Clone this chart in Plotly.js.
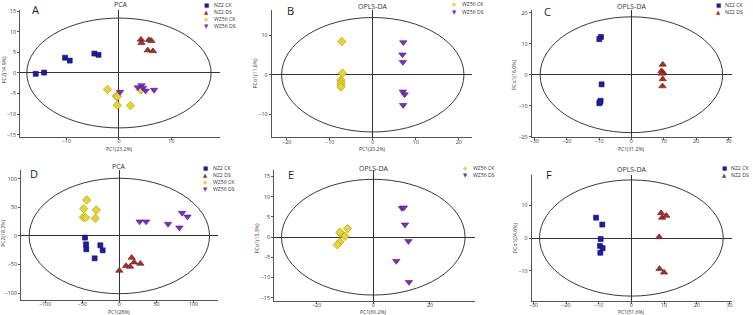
<!DOCTYPE html>
<html>
<head>
<meta charset="utf-8">
<script src="https://cdn.plot.ly/plotly-3.0.1.min.js"></script>
<style>html,body{margin:0;padding:0;background:#fff;}#chart{width:753px;height:315px;}</style>
</head>
<body>
<div id="chart"></div>
<script>
// ---------- DATA ----------
const groupNames = ['NZ2 CK', 'NZ2 DS', 'WZ56 CK', 'WZ56 DS'];
const panelLetters = ['A', 'B', 'C', 'D', 'E', 'F'];
const panelTitles = ['PCA', 'OPLS-DA', 'OPLS-DA', 'PCA', 'OPLS-DA', 'OPLS-DA'];
const xTitles = ['PC1(23.2%)', 'PC1(20.2%)', 'PC1(31.2%)', 'PC1(28%)', 'PC1(60.2%)', 'PC1(51.6%)'];
const yTitles = ['PC2(14.9%)', 'PCo1(11.6%)', 'PCo1(16.0%)', 'PC2(18.2%)', 'PCo1(15.3%)', 'PCo1(24.6%)'];
const ellipseRx = [17.6, 21.2, 28.2, 121.5, 32.4, 28.1];
const ellipseRy = [13.3, 14.5, 18.7, 101, 14.3, 17.7];

// Panel A (PCA, all four groups)
const A_NZ2CK_x = [-15.9, -14.3, -10.3, -9.4, -4.7, -3.9];
const A_NZ2CK_y = [-0.2, 0.1, 3.7, 3.0, 4.7, 4.4];
const A_NZ2DS_x = [4.2, 4.3, 5.7, 6.2, 5.5, 6.5];
const A_NZ2DS_y = [8.1, 7.3, 8.0, 7.8, 5.5, 5.3];
const A_WZ56CK_x = [-2.2, -0.5, -0.3, -0.3, 2.2, 4.2];
const A_WZ56CK_y = [-4.0, -5.6, -5.7, -7.8, -7.9, -4.1];
const A_WZ56DS_x = [0.2, 3.6, 4.3, 4.6, 5.1, 6.7];
const A_WZ56DS_y = [-4.6, -3.5, -3.0, -3.6, -4.3, -4.1];

// Panel B (OPLS-DA, WZ56)
const B_WZ56CK_x = [-7.2, -7.05, -7.4, -7.4, -7.4, -7.4];
const B_WZ56CK_y = [8.4, 0.4, -1.35, -1.9, -2.5, -3.1];
const B_WZ56DS_x = [7.1, 6.9, 7.0, 7.0, 7.4, 7.05];
const B_WZ56DS_y = [8.2, 5.1, 3.2, -4.3, -5.0, -7.7];

// Panel C (OPLS-DA, NZ2)
const C_NZ2CK_x = [-9.4, -9.9, -9.2, -9.5, -9.9, -9.7];
const C_NZ2CK_y = [12.2, 11.5, -3.1, -8.4, -9.2, -8.8];
const C_NZ2DS_x = [9.7, 9.3, 9.9, 9.4, 9.7, 9.6];
const C_NZ2DS_y = [3.3, 1.2, 0.6, 0.4, -1.4, -3.7];

// Panel D (PCA, all four groups)
const D_NZ2CK_x = [-46.3, -44.9, -44.5, -25.6, -22.5, -33.3];
const D_NZ2CK_y = [-2.9, -14.6, -23.3, -16.3, -25.1, -39.1];
const D_NZ2DS_x = [0.0, 9.0, 14.4, 16.6, 19.8, 28.3];
const D_NZ2DS_y = [-60.6, -52.5, -53.6, -37.9, -46.1, -48.4];
const D_WZ56CK_x = [-44.0, -48.1, -48.5, -45.4, -31.0, -32.4];
const D_WZ56CK_y = [63.0, 47.8, 32.7, 32.1, 45.5, 30.9];
const D_WZ56DS_x = [27.4, 36.0, 65.6, 80.9, 84.5, 91.7];
const D_WZ56DS_y = [25.1, 25.1, 21.0, 14.6, 40.2, 33.8];

// Panel E (OPLS-DA, WZ56)
const E_WZ56CK_x = [-9.1, -11.5, -10.0, -11.8, -12.7, -11.8];
const E_WZ56CK_y = [2.1, 0.9, 0.2, -1.2, -1.9, 1.2];
const E_WZ56DS_x = [10.1, 10.8, 11.2, 12.4, 8.1, 12.6];
const E_WZ56DS_y = [7.2, 7.3, 3.1, -1.0, -5.9, -11.1];

// Panel F (OPLS-DA, NZ2)
const F_NZ2CK_x = [-10.8, -8.9, -9.4, -9.6, -8.8, -9.5];
const F_NZ2CK_y = [6.2, 4.1, -0.3, -2.4, -3.1, -4.5];
const F_NZ2DS_x = [9.1, 9.4, 10.7, 8.5, 8.6, 10.0];
const F_NZ2DS_y = [7.6, 6.2, 6.8, 0.3, -9.4, -10.5];

// ---------- STYLES / LAYOUT ----------
const W = 753, H = 315;
const px = v => v / W;
const py = v => 1 - v / H;

const style = {
  'NZ2 CK':  {symbol: 'square', color: '#1d1da0', line: '#101070', glyph: '\u25A0', size: 5},
  'NZ2 DS':  {symbol: 'triangle-up', color: '#a3302c', line: '#6e1a18', glyph: '\u25B2', size: 6.5},
  'WZ56 CK': {symbol: 'diamond', color: '#e6d52a', line: '#a4961a', glyph: '\u25C6', size: 6.5},
  'WZ56 DS': {symbol: 'triangle-down', color: '#7a2fc0', line: '#4e1a85', glyph: '\u25BC', size: 6.5}
};

const panelSeries = [
  [['NZ2 CK', A_NZ2CK_x, A_NZ2CK_y], ['NZ2 DS', A_NZ2DS_x, A_NZ2DS_y], ['WZ56 CK', A_WZ56CK_x, A_WZ56CK_y], ['WZ56 DS', A_WZ56DS_x, A_WZ56DS_y]],
  [['WZ56 CK', B_WZ56CK_x, B_WZ56CK_y], ['WZ56 DS', B_WZ56DS_x, B_WZ56DS_y]],
  [['NZ2 CK', C_NZ2CK_x, C_NZ2CK_y], ['NZ2 DS', C_NZ2DS_x, C_NZ2DS_y]],
  [['NZ2 CK', D_NZ2CK_x, D_NZ2CK_y], ['NZ2 DS', D_NZ2DS_x, D_NZ2DS_y], ['WZ56 CK', D_WZ56CK_x, D_WZ56CK_y], ['WZ56 DS', D_WZ56DS_x, D_WZ56DS_y]],
  [['WZ56 CK', E_WZ56CK_x, E_WZ56CK_y], ['WZ56 DS', E_WZ56DS_x, E_WZ56DS_y]],
  [['NZ2 CK', F_NZ2CK_x, F_NZ2CK_y], ['NZ2 DS', F_NZ2DS_x, F_NZ2DS_y]]
];

// geometry in pixels
const geo = [
  {x0: 20, x1: 220, y0: 10, y1: 137, xr: [-18.9, 19.3], yr: [-15.5, 15.25], dx: 10, dy: 5,
   letter: [35, 9], title: [121, 5], leg: [207, 213, 4.6, 7.2], xt: [119.3, 148.5], yt: [3.5, 70]},
  {x0: 271.7, x1: 471.7, y0: 10, y1: 137.3, xr: [-23.5, 23.0], yr: [-15.85, 16.4], dx: 10, dy: 10,
   letter: [290, 10], title: [372.7, 6], leg: [454, 460.5, 4.5, 7.2], xt: [372.7, 148.8], yt: [254.5, 73]},
  {x0: 531.7, x1: 731.7, y0: 10, y1: 136.7, xr: [-30.8, 31.0], yr: [-20.0, 20.9], dx: 10, dy: 10,
   letter: [547.7, 11.7], title: [631.7, 6], leg: [718, 724, 4.7, 7.3], xt: [631.3, 148.5], yt: [514, 75]},
  {x0: 21, x1: 218.3, y0: 170, y1: 300, xr: [-132.5, 133.3], yr: [-112, 115.4], dx: 50, dy: 50,
   letter: [34.3, 173.3], title: [119.3, 166.7], leg: [205.7, 212.3, 167.8, 7.2], xt: [119.3, 311.8], yt: [2.8, 233]},
  {x0: 274, x1: 475, y0: 170, y1: 300.7, xr: [-35.05, 35.9], yr: [-15.7, 16.6], dx: 20, dy: 5,
   letter: [290.7, 174], title: [373.3, 168.3], leg: [465, 471.5, 168, 7.2], xt: [373.3, 312], yt: [256.5, 238]},
  {x0: 531.7, x1: 731.7, y0: 175, y1: 300.7, xr: [-30.5, 30.7], yr: [-19.1, 19.2], dx: 10, dy: 10,
   letter: [548.7, 174], title: [631.3, 169], leg: [724, 730, 167.5, 7.2], xt: [631.3, 312], yt: [515, 238]}
];

const traces = [];
const layout = {
  width: W, height: H,
  margin: {l: 0, r: 0, t: 0, b: 0},
  paper_bgcolor: '#ffffff', plot_bgcolor: '#ffffff',
  showlegend: false,
  font: {family: 'Open Sans, Liberation Sans, sans-serif', color: '#333', size: 6},
  annotations: [], shapes: []
};

geo.forEach((g, i) => {
  const n = i + 1;
  const xa = 'xaxis' + (n === 1 ? '' : n), ya = 'yaxis' + (n === 1 ? '' : n);
  const xr = 'x' + (n === 1 ? '' : n), yr = 'y' + (n === 1 ? '' : n);
  const common = {
    showgrid: false, zeroline: true, zerolinecolor: '#333', zerolinewidth: 1,
    showline: true, linecolor: '#555', linewidth: 1,
    ticks: 'outside', ticklen: 2, tickcolor: '#555', tickwidth: 1,
    tickfont: {size: 5.3, color: '#333'}, automargin: false, fixedrange: true
  };
  layout[xa] = Object.assign({domain: [px(g.x0), px(g.x1)], range: g.xr, anchor: yr, dtick: g.dx,
    ticklabelstandoff: -3}, common);
  layout[ya] = Object.assign({domain: [py(g.y1), py(g.y0)], range: g.yr, anchor: xr, dtick: g.dy}, common);
  // Hotelling ellipse
  layout.shapes.push({
    type: 'circle', xref: xr, yref: yr,
    x0: -ellipseRx[i], x1: ellipseRx[i], y0: -ellipseRy[i], y1: ellipseRy[i],
    line: {color: '#222', width: 0.9}, layer: 'below'
  });
  const ann = (text, x, y, opts) => layout.annotations.push(Object.assign({
    text: text, xref: 'paper', yref: 'paper', x: px(x), y: py(y),
    xanchor: 'center', yanchor: 'middle', showarrow: false, borderpad: 0
  }, opts));
  ann(panelLetters[i], g.letter[0], g.letter[1], {font: {size: 11, color: '#222', family: 'Open Sans, sans-serif'}});
  ann(panelTitles[i], g.title[0], g.title[1], {font: {size: 7, color: '#333'}});
  ann(xTitles[i], g.xt[0], g.xt[1], {font: {size: 5, color: '#333'}});
  ann(yTitles[i], g.yt[0], g.yt[1], {font: {size: 5.2, color: '#333'}, textangle: -90});
  // series + legend
  panelSeries[i].forEach((s, k) => {
    const st = style[s[0]];
    traces.push({
      type: 'scatter', mode: 'markers', name: s[0], x: s[1], y: s[2],
      xaxis: xr, yaxis: yr, cliponaxis: false,
      marker: {symbol: st.symbol, size: st.size, color: st.color, line: {color: st.line, width: 0.6}}
    });
    const yy = g.leg[2] + k * g.leg[3];
    ann(st.glyph, g.leg[0], yy, {font: {size: 5.5, color: st.color, family: 'DejaVu Sans'}});
    ann(s[0], g.leg[1], yy, {xanchor: 'left', font: {size: 5.2, color: '#333'}});
  });
});

Plotly.newPlot('chart', traces, layout, {displayModeBar: false, staticPlot: true});
</script>
</body>
</html>
